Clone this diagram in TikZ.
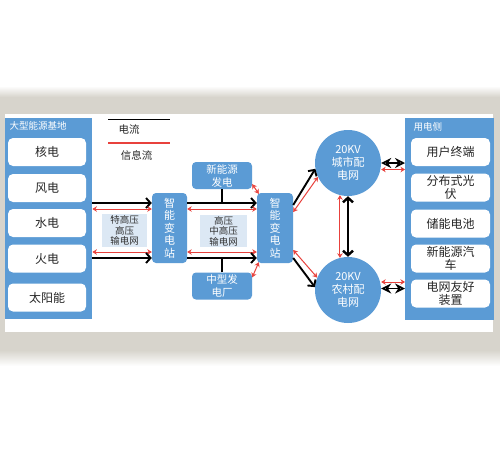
\documentclass[tikz,border=0pt]{standalone}
\usepackage{fontspec}
\setmainfont{Noto Sans CJK SC}
\usetikzlibrary{arrows.meta,calc}
\definecolor{blueM}{HTML}{5B9BD5}
\definecolor{lightB}{HTML}{DCE8F4}
\definecolor{redA}{HTML}{E8413C}
\definecolor{grayB}{HTML}{D7D4CC}
\begin{document}
\begin{tikzpicture}[x=1pt,y=-1pt,
  panel/.style={fill=blueM, inner sep=0pt, anchor=north west},
  ebox/.style={fill=white, rounded corners=5pt, minimum width=78pt, minimum height=28pt, inner sep=1pt, align=center, font=\fontsize{12}{13}\selectfont, text=black!85},
  stn/.style={fill=blueM, rounded corners=4pt, minimum width=35pt, minimum height=70pt, inner sep=0pt, align=center, text=white, font=\fontsize{11}{12.5}\selectfont},
  lbox/.style={fill=lightB, inner sep=0pt, align=center, font=\fontsize{9.5}{10.5}\selectfont, text=black!80},
  gbox/.style={fill=blueM, rounded corners=4pt, minimum width=60pt, minimum height=27pt, inner sep=0pt, align=center, text=white, font=\fontsize{10.5}{13}\selectfont},
  gridc/.style={circle, fill=blueM, minimum size=66pt, inner sep=0pt, align=center, text=white, font=\fontsize{11}{13}\selectfont},
  pflow/.style={line width=1.9pt, -{Straight Barb[length=4.5pt,width=10pt]}},
  iflow/.style={draw=redA, line width=1pt, {Stealth[length=4.5pt,width=5.5pt]}-{Stealth[length=4.5pt,width=5.5pt]}},
  eyeflow/.style={line width=1.6pt, {Stealth[open,length=10pt,width=10pt]}-{Stealth[open,length=10pt,width=10pt]}},
  ptitle/.style={anchor=west, text=white, font=\fontsize{9.5}{10}\selectfont},
  legtext/.style={font=\fontsize{10.5}{11}\selectfont, text=black!85}
]
\useasboundingbox (0,0) rectangle (500,467);
\fill[white] (0,0) rectangle (500,467);
\shade[top color=white, bottom color=grayB] (0,86) rectangle (500,97);
\fill[grayB] (0,97) rectangle (500,350);
\shade[top color=grayB, bottom color=white] (0,350) rectangle (500,366);
\fill[white] (5,114) rectangle (493,332);

% panels
\node[panel, minimum width=87pt, minimum height=201pt] (lp) at (5,118) {};
\node[ptitle] (lpt) at (6,126) {大型能源基地};
\node[panel, minimum width=89pt, minimum height=202pt] (rp) at (405,118) {};
\node[ptitle] (rpt) at (410,127) {用电侧};

% source boxes
\node[ebox] (he) at (47,152) {核电};
\node[ebox] (fd) at (47,188) {风电};
\node[ebox] (sd) at (47,223) {水电};
\node[ebox] (hd) at (47,258.5) {火电};
\node[ebox] (ty) at (47,297.5) {太阳能};

% consumer boxes
\node[ebox, minimum width=79pt] (yh) at (450.5,152) {用户终端};
\node[ebox, minimum width=79pt] (fb) at (450.5,187.5) {分布式光\\伏};
\node[ebox, minimum width=79pt] (cn) at (450.5,223.5) {储能电池};
\node[ebox, minimum width=79pt] (xq) at (450.5,258.5) {新能源汽\\车};
\node[ebox, minimum width=79pt] (dw) at (450.5,293.5) {电网友好\\装置};

% legend
\coordinate (lg1) at (108,119);
\coordinate (lg2) at (170,119);
\coordinate (lg3) at (108,143);
\coordinate (lg4) at (170,143);
\draw[line width=1pt] (lg1) -- (lg2);
\node[legtext] (lgt1) at (129,129) {电流};
\draw[redA, line width=1.2pt] (lg3) -- (lg4);
\node[legtext] (lgt2) at (136.5,155) {信息流};

% stations
\node[stn] (s1) at (169.5,228) {智\\能\\变\\电\\站};
\node[stn, minimum width=36pt] (s2) at (275,228) {智\\能\\变\\电\\站};

% light boxes
\node[lbox, minimum width=45pt, minimum height=33pt] (lb1) at (124.5,230.5) {特高压\\高压\\输电网};
\node[lbox, minimum width=47pt, minimum height=32pt] (lb2) at (223.5,231) {高压\\中高压\\输电网};

% generation boxes
\node[gbox] (xn) at (222,175.5) {新能源\\发电};
\node[gbox] (zx) at (222,286) {中型发\\电厂};

% grids
\node[gridc] (city) at (348,163) {20KV\\城市配\\电网};
\node[gridc] (rural) at (348,290) {20KV\\农村配\\电网};

% helper heights
\coordinate (y203) at (0,203);
\coordinate (y209) at (0,209);
\coordinate (y252) at (0,252);
\coordinate (y258) at (0,258);
\coordinate (y205) at (0,205);
\coordinate (y212) at (0,212);
\coordinate (y250) at (0,250);
\coordinate (y169) at (0,169.5);
\coordinate (y282) at (0,282);
\coordinate (y288) at (0,288.5);

% left panel -> station 1
\draw[pflow] (lp.east |- y203) -- (s1.west |- y203);
\draw[iflow] (lp.east |- y209) -- (s1.west |- y209);
\draw[iflow] (lp.east |- y252) -- (s1.west |- y252);
\draw[pflow] (lp.east |- y258) -- (s1.west |- y258);

% station 1 -> station 2
\draw[pflow] (s1.east |- y203) -- (s2.west |- y203);
\draw[iflow] (s1.east |- y209) -- (s2.west |- y209);
\draw[iflow] (s1.east |- y252) -- (s2.west |- y252);
\draw[pflow] (s1.east |- y258) -- (s2.west |- y258);
\draw[line width=1.9pt] (xn.south) -- (xn.south |- y203);
\draw[line width=1.9pt] (zx.north) -- (zx.north |- y258);
\draw[iflow] ($(xn.south east)+(0,-5)$) -- ($(s2.north west)+(2,1)$);
\draw[iflow] ($(zx.north east)+(0,5)$) -- ($(s2.south west)+(2,-1)$);

% station 2 -> grids
\draw[pflow] (s2.east |- y205) -- (city.190);
\draw[iflow] (s2.east |- y212) -- (city.205);
\draw[iflow] (s2.east |- y250) -- (rural.158);
\draw[pflow] (s2.east |- y258) -- (rural.175);

% between grids
\draw[line width=2.4pt, {Straight Barb[length=4.5pt,width=10pt]}-{Straight Barb[length=4.5pt,width=10pt]}] (city.south) -- (rural.north);
\draw[iflow] (city.256) -- (rural.104);

% grids -> consumers
\draw[eyeflow] (city.east) -- (rp.west |- city.east);
\draw[iflow] (city.east |- y169) -- (rp.west |- y169);
\draw[iflow] (rural.east |- y282) -- (rp.west |- y282);
\draw[eyeflow] (rural.east |- y288) -- (rp.west |- y288);
\end{tikzpicture}
\end{document}
